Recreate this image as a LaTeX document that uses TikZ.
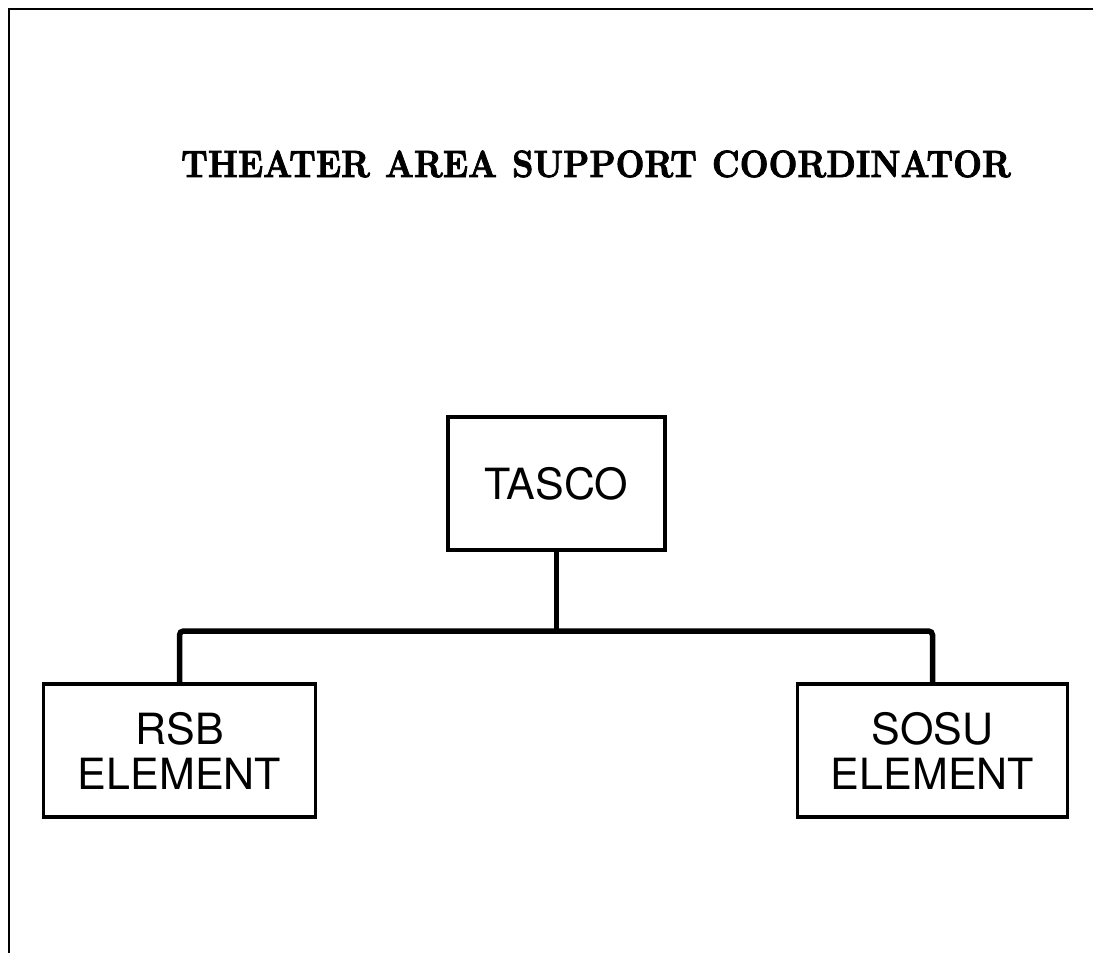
\documentclass[tikz,border=0pt]{standalone}
\usepackage{fontspec}
\newfontfamily\boxfont{TeX Gyre Heros}
\newfontfamily\titlefont[FakeBold=2.2]{lmroman10-bold.otf}
\begin{document}
\begin{tikzpicture}[x=1pt,y=-1pt,
  orgbox/.style={draw,line width=3.2pt,minimum width=#1,minimum height=133pt,inner sep=0pt,
    align=center,font=\boxfont\fontsize{43}{45}\selectfont},
  conn/.style={line width=5.5pt,rounded corners=4pt},
  frameline/.style={line width=2.8pt}]
\useasboundingbox (0,0) rectangle (1093,953);
\coordinate (fa) at (9,953);
\coordinate (fb) at (9,9);
\coordinate (fc) at (1093,9);
\draw[frameline] (fa) -- (fb) -- (fc);
\node[anchor=base,font=\titlefont\fontsize{38}{40}\selectfont] (title) at (596,177)
  {\scalebox{0.88}[1]{THEATER\hspace{17pt}AREA\hspace{17pt}SUPPORT\hspace{17pt}COORDINATOR}};
\node[orgbox=217pt] (tasco) at (556.5,483.5) {TASCO};
\node[orgbox=272pt] (rsb) at (179.5,750.5) {RSB\\ELEMENT};
\node[orgbox=270pt] (sosu) at (932.5,750.5) {SOSU\\ELEMENT};
\coordinate (junction) at (556.5,631);
\draw[conn] (tasco.south) -- (junction);
\draw[conn] (rsb.north) |- (junction) -| (sosu.north);
\end{tikzpicture}
\end{document}
